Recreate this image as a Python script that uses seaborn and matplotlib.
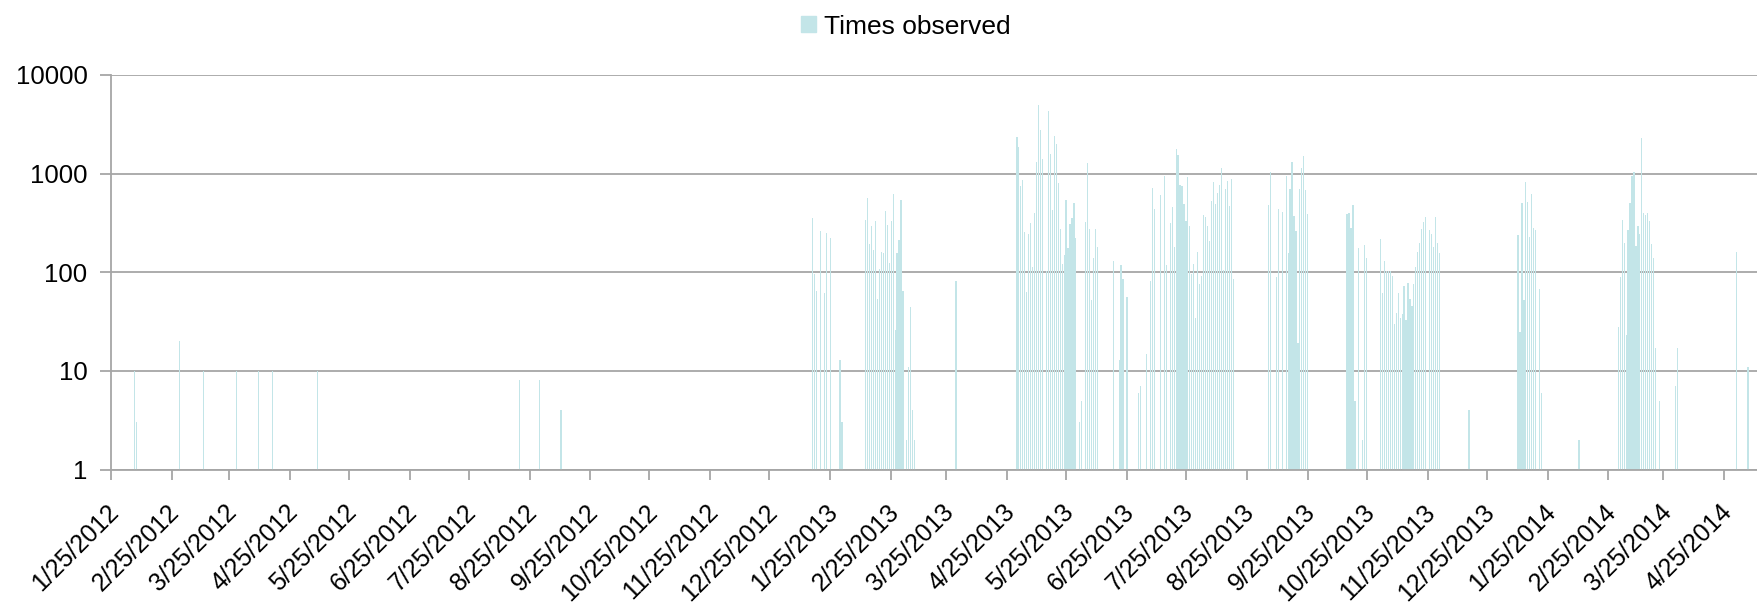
import matplotlib
matplotlib.use("Agg")
import matplotlib.pyplot as plt
import matplotlib.dates as mdates
import matplotlib.transforms as mtransforms
from matplotlib.ticker import FixedLocator, FuncFormatter, NullLocator
from matplotlib.patches import Patch
import pandas as pd
import seaborn as sns

# ---------------- data ----------------
# isolated observation days
single_dates = ["2012-02-06", "2012-02-07", "2012-02-29", "2012-03-12", "2012-03-29",
                "2012-04-09", "2012-04-16", "2012-05-09", "2012-08-20", "2012-08-30",
                "2012-09-10", "2013-01-30", "2013-01-31", "2013-03-30",
                "2013-07-01", "2013-07-02", "2013-07-05", "2013-12-16",
                "2014-02-10", "2014-03-31", "2014-04-01", "2014-05-01", "2014-05-07"]
single_counts = [10, 3, 20, 10, 10, 10, 10, 10, 8, 8, 4, 13, 3, 82, 6, 7, 15, 4, 2, 7, 17, 162, 11]

# runs of consecutive days (0 = no observation that day)
run_a_start = "2013-01-16"
run_a = [358, 95, 64, 0, 265, 0, 61, 250, 0, 225]
run_b_start = "2013-02-12"
run_b = [336, 567, 192, 297, 170, 331, 54, 108, 162, 155, 418, 299, 124, 331, 627, 26,
         155, 212, 545, 65, 0, 2, 11, 44, 4, 2]
run_c_start = "2013-04-30"
run_c = [2371, 1879, 756, 870, 256, 63, 245, 316, 112, 403, 1320, 4920, 2760, 1397, 0,
         104, 4315, 1590, 432, 2390, 2000, 812, 273, 120, 150, 541, 175, 309, 358, 504,
         225, 0, 3, 5, 0, 321, 1295, 277, 52, 140, 277, 182]
run_d_start = "2013-06-18"
run_d = [129, 0, 0, 13, 119, 86, 0, 56]
run_e_start = "2013-07-07"
run_e = [81, 720, 437, 0, 0, 612, 0, 946, 119, 0, 318, 459, 182, 1791, 1557, 767, 756,
         496, 334, 914, 294, 95, 121, 34, 160, 76, 91, 380, 367, 297, 206, 523, 824, 495,
         636, 767, 1140, 106, 700, 843, 474, 889, 86]
run_f_start = "2013-09-05"
run_f = [485, 1030, 0, 0, 90, 434, 0, 405, 0, 946, 156, 694, 1303, 370, 262, 19, 700,
         1133, 1516, 687, 390]
run_g_start = "2013-10-15"
run_g = [390, 400, 282, 485, 5, 0, 175, 0, 2, 188, 138]
run_h_start = "2013-11-01"
run_h = [216, 61, 131, 104, 104, 104, 91, 30, 39, 61, 34, 38, 73, 33, 78, 53, 46, 76,
         114, 162, 198, 273, 321, 361, 0, 268, 243, 182, 366, 197, 155]
run_i_start = "2014-01-10"
run_i = [239, 25, 500, 52, 815, 520, 230, 627, 282, 267, 0, 67, 6]
run_j_start = "2014-03-02"
run_j = [28, 90, 340, 200, 23, 268, 508, 946, 1050, 186, 292, 246, 2300, 400, 380, 400,
         329, 195, 140, 17, 0, 5]

series_label = "Times observed"
y_ticks = [1, 10, 100, 1000, 10000]

# ---------------- build table ----------------
rows = []
for start, vals in [(run_a_start, run_a), (run_b_start, run_b), (run_c_start, run_c),
                    (run_d_start, run_d), (run_e_start, run_e), (run_f_start, run_f),
                    (run_g_start, run_g), (run_h_start, run_h), (run_i_start, run_i),
                    (run_j_start, run_j)]:
    s = pd.Timestamp(start)
    for i, v in enumerate(vals):
        if v > 0:
            rows.append((s + pd.Timedelta(days=i), v))
rows += list(zip(pd.to_datetime(single_dates), single_counts))
df = pd.DataFrame(rows, columns=["date", "count"]).sort_values("date")
df["x"] = mdates.date2num(df["date"])

# ---------------- style ----------------
plt.rcParams["font.family"] = ["Liberation Sans", "DejaVu Sans"]
BAR = "#C3E5E8"
GRID = "#A6A6A6"

W, H = 1757, 603
fig = plt.figure(figsize=(W / 100, H / 100), dpi=100)
left, right, top, bottom = 111, W, 75, 469.5
ax = fig.add_axes([left / W, 1 - bottom / H, (right - left) / W, (bottom - top) / H])

sns.barplot(data=df, x="x", y="count", native_scale=True, width=0.6, color=BAR,
            saturation=1, errorbar=None, ax=ax)

ax.set_yscale("log")
ax.set_ylim(1, 10000)
x0 = mdates.date2num(pd.Timestamp("2012-01-25"))
ax.set_xlim(x0, x0 + 837.6)

ax.xaxis.set_major_locator(mdates.MonthLocator(bymonthday=25))
ax.xaxis.set_minor_locator(NullLocator())


def fmt_date(v, p):
    d = mdates.num2date(v)
    return f"{d.month}/{d.day}/{d.year}"


ax.xaxis.set_major_formatter(FuncFormatter(fmt_date))
ax.yaxis.set_major_locator(FixedLocator(y_ticks))
ax.yaxis.set_major_formatter(FuncFormatter(lambda v, p: f"{int(round(v))}"))
ax.yaxis.set_minor_locator(NullLocator())

ax.set_xlabel("")
ax.set_ylabel("")
ax.set_axisbelow(True)
ax.grid(axis="y", color=GRID, linewidth=1.3)
ax.grid(axis="x", visible=False)
for sp in ["top", "right"]:
    ax.spines[sp].set_visible(False)
for sp in ["left", "bottom"]:
    ax.spines[sp].set_color(GRID)
    ax.spines[sp].set_linewidth(1.3)

ax.tick_params(axis="x", direction="out", length=7, width=1.3, color=GRID,
               labelsize=18, pad=21, labelcolor="black")
ax.tick_params(axis="y", direction="out", length=8, width=1.3, color=GRID,
               labelsize=18.5, pad=9, labelcolor="black")
shift = mtransforms.ScaledTranslation(4 / 100, 0, fig.dpi_scale_trans)
for lab in ax.get_xticklabels():
    lab.set_rotation(45)
    lab.set_ha("right")
    lab.set_va("center")
    lab.set_rotation_mode("anchor")
    lab.set_transform(lab.get_transform() + shift)

fig.legend(handles=[Patch(color=BAR)], labels=[series_label], loc="center",
           bbox_to_anchor=(0.5155, 0.956), frameon=False, fontsize=19,
           handlelength=0.55, handleheight=0.55, handletextpad=0.3)

fig.savefig("out.png", dpi=100)
